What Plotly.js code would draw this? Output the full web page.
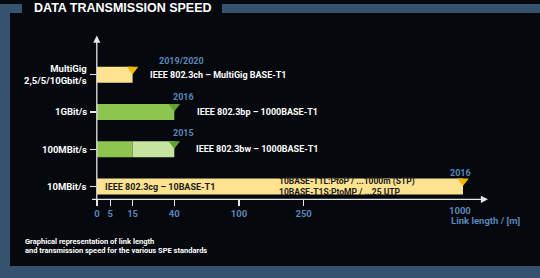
<!DOCTYPE html>
<html>
<head>
<meta charset="utf-8">
<script src="https://cdn.plot.ly/plotly-3.0.1.min.js"></script>
<style>html,body{margin:0;padding:0;background:#05080c;}#chart{width:540px;height:278px;}</style>
</head>
<body>
<div id="chart"></div>
<script>
// ---------------- DATA ----------------
const speedClasses = ['10MBit/s', '100MBit/s', '1GBit/s', 'MultiGig<br>2,5/5/10Gbit/s'];
const standardNames = ['IEEE 802.3cg – 10BASE-T1', 'IEEE 802.3bw – 1000BASE-T1', 'IEEE 802.3bp – 1000BASE-T1', 'IEEE 802.3ch – MultiGig BASE-T1'];
const releaseYears = ['2016', '2015', '2016', '2019/2020'];
const maxLinkLength = [1000, 40, 40, 15];     // m, full bar length
const coreLinkLength = [1000, 15, 40, 15];    // m, solid part of bar
const detailLines = ['10BASE-T1L:PtoP / ...1000m (STP)', '10BASE-T1S:PtoMP / ...25 UTP'];
const axisTickValues = [0, 5, 15, 40, 100, 250];
const axisEndValue = 1000;
const axisTitle = 'Link length / [m]';
const chartTitle = 'DATA TRANSMISSION SPEED';
const footnote = ['Graphical representation of link length', 'and transmission speed for the various SPE standards'];

// ---------------- SCALE (non-uniform link-length axis) ----------------
const scaleStops = [0, 5, 15, 40, 100, 250, 1000];
const scaleUnits = [0, 13.3, 35.6, 77.3, 142, 206.6, 366];
function toAxis(v) {
  for (let i = 1; i < scaleStops.length; i++) {
    if (v <= scaleStops[i]) {
      const t = (v - scaleStops[i - 1]) / (scaleStops[i] - scaleStops[i - 1]);
      return scaleUnits[i - 1] + t * (scaleUnits[i] - scaleUnits[i - 1]);
    }
  }
  return scaleUnits[scaleUnits.length - 1];
}

// ---------------- STYLE ----------------
const W = 540, H = 278;
const M = {l: 97, r: 53, t: 36, b: 79};
const PW = W - M.l - M.r, PH = H - M.t - M.b;
const px = x => (x - M.l) / PW;
const py = y => (H - M.b - y) / PH;
const FONT = 'Roboto, Arial, sans-serif';
const frameBlue = '#35526f';
const axisBlue = '#5a86b9';
const yellow = '#fde290', yellowTri = '#f5b800';
const green = '#8ec550', lightGreen = '#c7e3a0', greenTri = '#5da52b';
const rowFill = [yellow, green, green, yellow];
const rowTri = [yellowTri, greenTri, greenTri, yellowTri];
const rows = speedClasses.map((_, i) => i);

const traces = [
  {
    type: 'bar', orientation: 'h', y: rows,
    x: coreLinkLength.map(toAxis), base: 0, width: 0.43,
    marker: {color: rowFill, line: {width: 0}}, hoverinfo: 'skip', showlegend: false
  },
  {
    type: 'bar', orientation: 'h',
    y: rows.filter(i => maxLinkLength[i] > coreLinkLength[i]),
    base: rows.filter(i => maxLinkLength[i] > coreLinkLength[i]).map(i => toAxis(coreLinkLength[i])),
    x: rows.filter(i => maxLinkLength[i] > coreLinkLength[i]).map(i => toAxis(maxLinkLength[i]) - toAxis(coreLinkLength[i])),
    width: 0.43, marker: {color: lightGreen, line: {width: 0}}, hoverinfo: 'skip', showlegend: false
  },
  {
    type: 'scatter', mode: 'markers',
    x: maxLinkLength.map(toAxis), y: rows.map(r => r + 0.145),
    marker: {symbol: 'triangle-down', size: 10, color: rowTri, line: {width: 0}},
    hoverinfo: 'skip', showlegend: false
  }
];

const annotations = [];
// y category labels (right aligned)
rows.forEach(i => {
  annotations.push({
    xref: 'paper', yref: 'y', x: px(88.5), y: i,
    xanchor: 'right', yanchor: 'middle', align: 'right', showarrow: false,
    text: speedClasses[i],
    font: {family: FONT, size: 9.5, weight: 'bold', color: '#ffffff'}
  });
});
const nameShift = [6, 20, 21, 15];
rows.forEach(i => {
  const inside = i === 0;
  annotations.push({
    xref: 'x', yref: 'y', x: inside ? 0 : toAxis(maxLinkLength[i]), y: i,
    xanchor: 'left', yanchor: 'middle', xshift: nameShift[i], showarrow: false,
    text: standardNames[i],
    font: {family: FONT, size: 9, weight: 'bold', color: inside ? '#1c1c1c' : '#ffffff'}
  });
});
const yearShift = [-3, 9, 9, 49];
const yearLift = [14, 16, 15, 14];
rows.forEach(i => {
  annotations.push({
    xref: 'x', yref: 'y', x: toAxis(maxLinkLength[i]), y: i,
    xanchor: 'center', yanchor: 'middle', xshift: yearShift[i], yshift: yearLift[i], showarrow: false,
    text: releaseYears[i],
    font: {family: FONT, size: 9, weight: 'bold', color: axisBlue}
  });
});
annotations.push({
  xref: 'paper', yref: 'y', x: px(277), y: 0, yshift: 0.5,
  xanchor: 'left', yanchor: 'middle', align: 'left', showarrow: false,
  text: detailLines.join('<br>'),
  font: {family: FONT, size: 8.5, weight: 'bold', color: '#1c1c1c'}
});
// axis arrows
annotations.push({
  xref: 'paper', yref: 'paper', x: px(488), y: py(199.3), ax: -(488 - 90.5), ay: 0,
  showarrow: true, arrowhead: 2, arrowsize: 1.1, arrowwidth: 1.3, arrowcolor: '#e6e6e6', text: ''
});
annotations.push({
  xref: 'paper', yref: 'paper', x: px(96.8), y: py(35.5), ax: 0, ay: 205 - 35.5,
  showarrow: true, arrowhead: 2, arrowsize: 1.1, arrowwidth: 1.3, arrowcolor: '#e6e6e6', text: ''
});
// end label + axis title
annotations.push({
  xref: 'x', yref: 'paper', x: toAxis(axisEndValue), y: py(210.5), xshift: -3,
  xanchor: 'center', yanchor: 'middle', showarrow: false, text: String(axisEndValue),
  font: {family: FONT, size: 9.5, weight: 'bold', color: axisBlue}
});
annotations.push({
  xref: 'paper', yref: 'paper', x: px(449), y: py(220.5),
  xanchor: 'left', yanchor: 'middle', showarrow: false, text: axisTitle,
  font: {family: FONT, size: 9.5, weight: 'bold', color: axisBlue}
});
footnote.forEach((t, k) => {
  annotations.push({
    xref: 'paper', yref: 'paper', x: px(23), y: py(k === 0 ? 241 : 250.5),
    xanchor: 'left', yanchor: 'middle', showarrow: false, text: t,
    font: {family: FONT, size: 7.5, weight: 'bold', color: '#ffffff'}
  });
});

const rect = (x0, y0, x1, y1, c) => ({
  type: 'rect', xref: 'paper', yref: 'paper', layer: 'below',
  x0: px(x0), x1: px(x1), y0: py(y1), y1: py(y0), fillcolor: c, line: {width: 0}
});
const shapes = [
  rect(0, 4, 22, 13, frameBlue),
  rect(222, 4, 540, 13, frameBlue),
  rect(0, 4, 10, 278, frameBlue),
  rect(0, 266, 540, 278, frameBlue)
];

const layout = {
  width: W, height: H,
  margin: M,
  paper_bgcolor: '#05080c',
  plot_bgcolor: 'rgba(0,0,0,0)',
  barmode: 'overlay',
  showlegend: false,
  title: {
    text: chartTitle, xref: 'container', yref: 'container',
    x: 34 / W, xanchor: 'left', y: 1 - 7.5 / H, yanchor: 'middle',
    font: {family: 'Liberation Sans, Arial, sans-serif', size: 12.5, weight: 'bold', color: '#ffffff'}
  },
  xaxis: {
    range: [0, PW], showgrid: false, zeroline: false, showline: false,
    tickmode: 'array', tickvals: axisTickValues.map(toAxis), ticktext: axisTickValues.map(String),
    ticks: 'outside', ticklen: 6, tickwidth: 1.3, tickcolor: '#e6e6e6',
    tickfont: {family: FONT, size: 9.5, weight: 'bold', color: axisBlue},
    fixedrange: true
  },
  yaxis: {
    range: [-0.335, 4.037], showgrid: false, zeroline: false, showline: false,
    tickmode: 'array', tickvals: rows, showticklabels: false,
    ticks: 'outside', ticklen: 6, tickwidth: 1.3, tickcolor: '#e6e6e6',
    fixedrange: true
  },
  annotations: annotations,
  shapes: shapes
};

Plotly.newPlot('chart', traces, layout, {displayModeBar: false, staticPlot: true});
</script>
</body>
</html>
